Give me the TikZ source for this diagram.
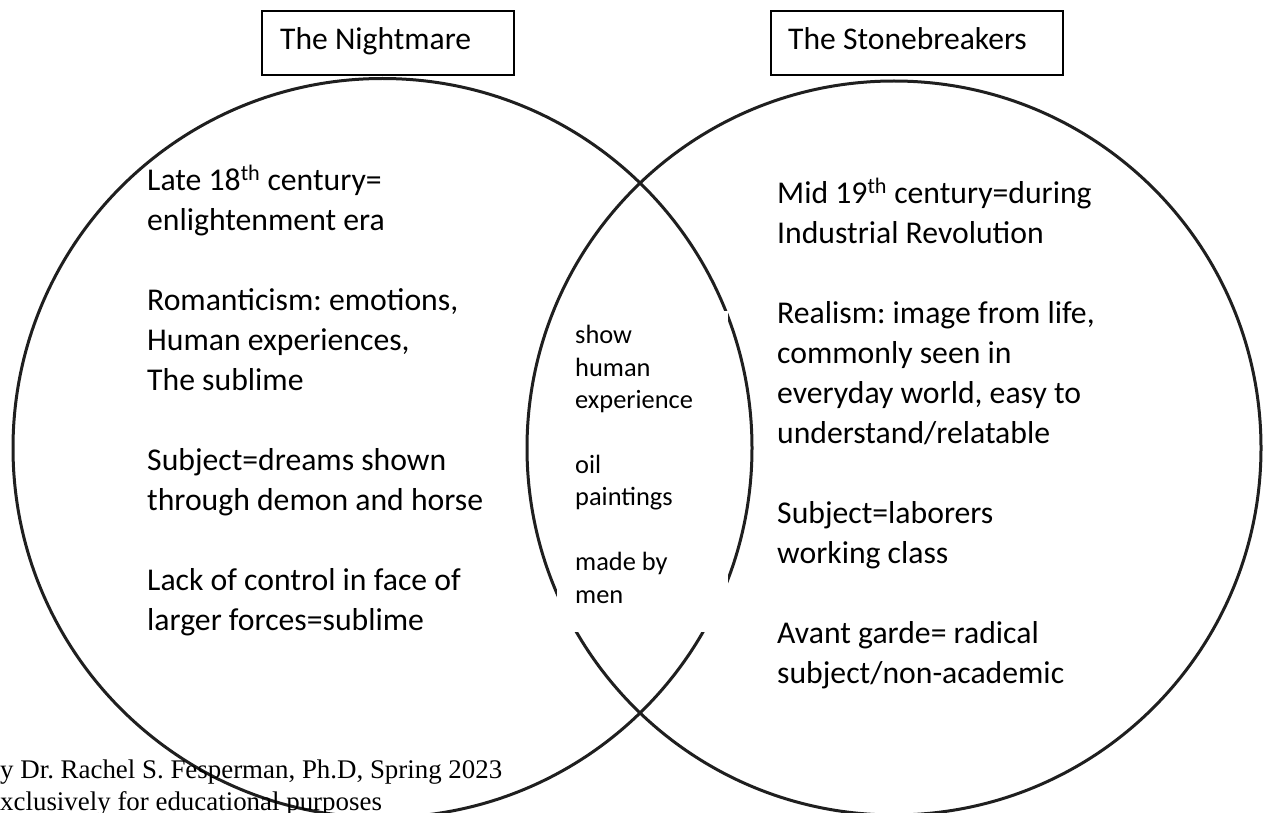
\documentclass[tikz,border=0pt]{standalone}
\usepackage{fontspec}
\setmainfont{Carlito}
\newfontfamily\creditfont{Liberation Serif}
\frenchspacing

\begin{document}
\begin{tikzpicture}[x=1pt, y=-1pt,
  ring/.style={line width=3pt, draw=black!88},
  titlebox/.style={line width=1.2pt},
  sidetext/.style={anchor=base west, inner sep=0pt, align=left,
    font=\fontsize{31.7}{40}\selectfont},
  midtext/.style={anchor=base west, inner sep=0pt, align=left,
    font=\fontsize{26.4}{32.2}\selectfont}]
\def\circleL{(382.5,448) circle [radius = 369.5]}
\def\circleR{(894,448) circle [radius = 367]}
\useasboundingbox (0,0) rectangle (1263,813);
\clip (0,0) rectangle (1263,813);
\draw[ring] \circleL;
\draw[ring] \circleR;
% blank patch over the lens
\fill[white] (557,311) rectangle (728,632);
% titles
\draw[titlebox] (262,11) rectangle (514,75);
\node[anchor=base west, inner sep=0pt, font=\fontsize{31.6}{38}\selectfont] (nightmare) at (280,50) {The Nightmare};
\draw[titlebox] (771,11) rectangle (1063,75);
\node[anchor=base west, inner sep=0pt, font=\fontsize{31.6}{38}\selectfont] (stonebreakers) at (788,50) {The Stonebreakers};
% left circle (anchored at last line)
\node[sidetext] (nightmaretext) at (147,630) {Late 18\textsuperscript{th} century=\\
  enlightenment era\\[40pt]
  Romanticism: emotions,\\
  Human experiences,\\
  The sublime\\[40pt]
  Subject=dreams shown\\
  through demon and horse\\[40pt]
  Lack of control in face of\\
  larger forces=sublime};
% right circle
\node[sidetext] (stonetext) at (777,683) {Mid 19\textsuperscript{th} century=during\\
  Industrial Revolution\\[40pt]
  Realism: image from life,\\
  commonly seen in\\
  everyday world, easy to\\
  understand/relatable\\[40pt]
  Subject=laborers\\
  working class\\[40pt]
  Avant garde= radical\\
  subject/non-academic};
% overlap
\node[midtext] (shared) at (575,603) {show\\
  human\\
  experience\\[33pt]
  oil\\
  paintings\\[33pt]
  made by\\
  men};
% credit line
\node[anchor=base west, inner sep=0pt, align=left, font=\creditfont\fontsize{26.9}{32}\selectfont] (credit) at (0,810) {y Dr. Rachel S. Fesperman, Ph.D, Spring 2023\\
  xclusively for educational purposes};
\end{tikzpicture}
\end{document}
